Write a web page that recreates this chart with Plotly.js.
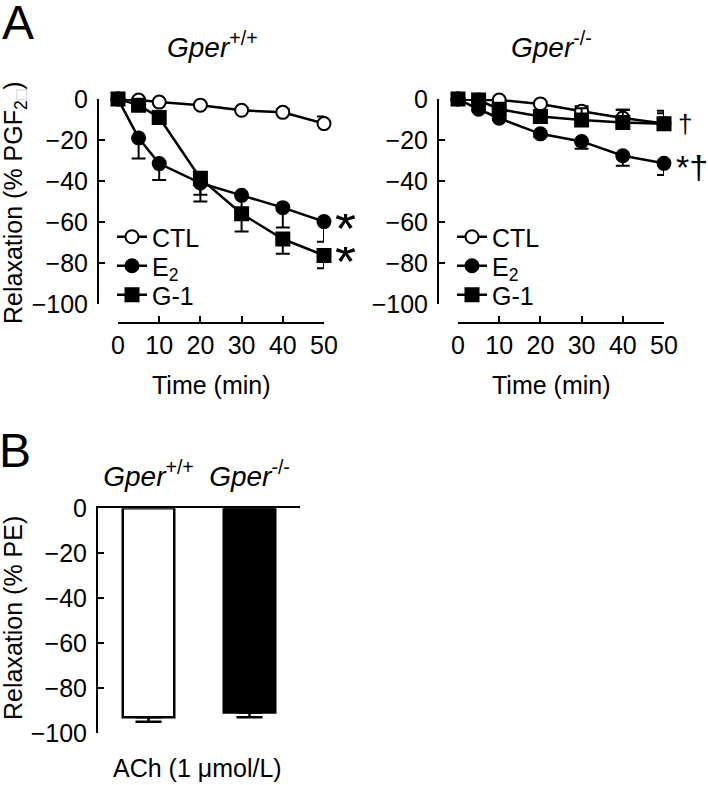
<!DOCTYPE html>
<html>
<head>
<meta charset="utf-8">
<script src="https://cdn.plot.ly/plotly-3.0.1.min.js"></script>
<style>html,body{margin:0;padding:0;background:#fff}#chart{width:708px;height:785px}</style>
</head>
<body>
<div id="chart"></div>
<script>
// ---- data ----
var timeMin = [0, 5, 10, 20, 30, 40, 50];
var timeTicks = [0, 10, 20, 30, 40, 50];
var relaxTicks = [0, -20, -40, -60, -80, -100];

var wtCTL = [0, -0.5, -1.5, -3, -5.5, -6.5, -12];
var wtCTLerr = [0, 0.5, 0.5, 0.8, 1, 1.5, 3.5];
var wtE2 = [0, -19, -31.5, -41, -47, -53, -59.8];
var wtE2err = [0, 10, 8, 9, 8, 9.7, 9.8];
var wtG1 = [0, -3, -9, -38.7, -56, -68.3, -76.3];
var wtG1err = [0, 1, 3, 8, 8.6, 7.2, 6.3];

var koCTL = [0, -0.5, -0.5, -2.4, -6, -9.3, -12];
var koCTLerr = [0, 0.5, 0.5, 1, 2.5, 4, 5];
var koE2 = [0, -5, -9.4, -17, -20.7, -27.7, -31.4];
var koE2err = [0, 1, 1, 1.5, 3.6, 4.9, 5.7];
var koG1 = [0, -0.5, -5, -8.5, -10.2, -11.5, -12.1];
var koG1err = [0, 0.5, 1, 3, 5.7, 6.3, 6.4];

var genotypes = ['Gper+/+', 'Gper-/-'];
var genotypeLabels = ['<i>Gper</i><sup>+/+</sup>', '<i>Gper</i><sup>-/-</sup>'];
var achRelax = [-92.9, -90.8];
var achErr = [2, 2.1];

var seriesNames = ['CTL', 'E<sub>2</sub>', 'G-1'];

// ---- layout helpers (pixel -> paper) ----
var W = 708, H = 785;
function px(x) { return x / W; }
function py(y) { return 1 - y / H; }
var FONT = 'Liberation Sans, Arial, sans-serif';
var zeros = [0, 0, 0, 0, 0, 0, 0];

function series(x, y, err, up, name, sym, fill, xa, ya, leg) {
  return {
    type: 'scatter', mode: 'lines+markers', x: x, y: y, name: name,
    xaxis: xa, yaxis: ya, legend: leg, showlegend: true, cliponaxis: false,
    line: {color: '#000', width: 2.5},
    marker: {symbol: sym, size: 13, color: fill, line: {color: '#000', width: 2}},
    error_y: {type: 'data', symmetric: false, array: up ? err : zeros, arrayminus: up ? zeros : err,
      color: '#000', thickness: 2, width: 7}
  };
}

var traces = [
  series(timeMin, wtCTL, wtCTLerr, true, seriesNames[0], 'circle', '#fff', 'x', 'y', 'legend'),
  series(timeMin, wtE2, wtE2err, false, seriesNames[1], 'circle', '#000', 'x', 'y', 'legend2'),
  series(timeMin, wtG1, wtG1err, false, seriesNames[2], 'square', '#000', 'x', 'y', 'legend3'),
  series(timeMin, koCTL, koCTLerr, true, seriesNames[0], 'circle', '#fff', 'x2', 'y2', 'legend4'),
  series(timeMin, koE2, koE2err, false, seriesNames[1], 'circle', '#000', 'x2', 'y2', 'legend5'),
  series(timeMin, koG1, koG1err, true, seriesNames[2], 'square', '#000', 'x2', 'y2', 'legend6'),
  {
    type: 'bar', x: genotypes, y: achRelax, xaxis: 'x3', yaxis: 'y3', showlegend: false, width: 0.51,
    marker: {color: ['#fff', '#000'], line: {color: '#000', width: 2.5}},
    error_y: {type: 'data', symmetric: false, array: [0, 0], arrayminus: achErr, color: '#000', thickness: 2.5, width: 13}
  }
];

var tickFont = {family: FONT, size: 25, color: '#000'};
function xAxis(d0, d1, pos) {
  return {domain: [px(d0), px(d1)], range: [0, 50], anchor: 'free', position: py(pos),
    showline: true, linewidth: 2, linecolor: '#000', ticks: 'inside', ticklen: 6, tickwidth: 2, tickcolor: '#000',
    tickvals: timeTicks, showgrid: false, zeroline: false, tickfont: tickFont, fixedrange: true};
}
function yAxis(pos, t, b) {
  return {domain: [py(b), py(t)], range: [-100, 0], anchor: 'free', position: px(pos),
    showline: true, linewidth: 2, linecolor: '#000', ticks: 'inside', ticklen: 6, tickwidth: 2, tickcolor: '#000',
    tickvals: relaxTicks, showgrid: false, zeroline: false, tickfont: tickFont, ticklabelstandoff: 4, fixedrange: true};
}

function legendAt(x, y) {
  return {x: px(x), y: py(y), xanchor: 'left', yanchor: 'middle',
    font: {family: FONT, size: 25, color: '#000'}, bgcolor: 'rgba(0,0,0,0)', borderwidth: 0,
    itemwidth: 30, itemclick: false, itemdoubleclick: false};
}

function ann(text, x, y, size, extra) {
  var a = {text: text, xref: 'paper', yref: 'paper', x: px(x), y: py(y), xanchor: 'center', yanchor: 'middle',
    showarrow: false, font: {family: FONT, size: size, color: '#000'}};
  for (var k in extra) a[k] = extra[k];
  return a;
}
function mark(text, xa, ya, yv, dx, dy, size) {
  return {text: text, xref: xa, yref: ya, x: 50, y: yv, xanchor: 'left', yanchor: 'middle', xshift: dx, yshift: dy,
    height: 28, showarrow: false, font: {family: FONT, size: size, color: '#000'}};
}

var layout = {
  width: W, height: H, margin: {l: 0, r: 0, t: 0, b: 0}, paper_bgcolor: '#fff', plot_bgcolor: 'rgba(0,0,0,0)',
  font: {family: FONT, color: '#000'},
  xaxis: xAxis(118, 324, 323),
  yaxis: yAxis(98, 99, 304),
  xaxis2: xAxis(458, 664, 323),
  yaxis2: yAxis(438, 99, 304),
  xaxis3: {domain: [px(98), px(300)], range: [-0.5, 1.5], anchor: 'y3', side: 'top', type: 'category',
    showline: true, linewidth: 2.5, linecolor: '#000', ticks: 'outside', ticklen: 9, tickcolor: 'rgba(0,0,0,0)',
    tickvals: genotypes, ticktext: genotypeLabels, showgrid: false, zeroline: false,
    tickfont: {family: FONT, size: 28, color: '#000'}, fixedrange: true},
  yaxis3: {domain: [py(733.3), py(508.3)], range: [-100, 0], anchor: 'x3',
    showline: true, linewidth: 2, linecolor: '#000', ticks: 'inside', ticklen: 6, tickwidth: 2, tickcolor: '#000',
    tickvals: relaxTicks, showgrid: false, zeroline: false, tickfont: tickFont, ticklabelstandoff: 4, fixedrange: true},
  legend: legendAt(112, 237),
  legend2: legendAt(112, 266),
  legend3: legendAt(112, 295),
  legend4: legendAt(452, 237),
  legend5: legendAt(452, 266),
  legend6: legendAt(452, 295),
  annotations: [
    ann('A', 18, 0, 48, {yanchor: 'top', height: 40}),
    ann('B', 15, 450, 48, {height: 40}),
    ann('<i>Gper</i><sup>+/+</sup>', 212, 45, 28),
    ann('<i>Gper</i><sup>-/-</sup>', 551, 45, 28),
    ann('Time (min)', 211, 385, 25),
    ann('Time (min)', 551, 385, 25),
    ann('Relaxation (% PGF<sub>2<span style="color:#c8c8c8">\u25A1</span></sub>)', 15, 203, 25, {textangle: -90}),
    ann('Relaxation (% PE)', 13, 618, 25, {textangle: -90}),
    ann('ACh (1 \u03BCmol/L)', 197, 768, 25),
    mark('*', 'x', 'y', wtE2[6], 9, -6, 54),
    mark('*', 'x', 'y', wtG1[6], 9, -6, 54),
    mark('\u2020', 'x2', 'y2', koG1[6], 12, 0, 26),
    mark('*\u2020', 'x2', 'y2', koE2[6], 10, -4, 34)
  ]
};

Plotly.newPlot('chart', traces, layout, {displayModeBar: false, staticPlot: true});
</script>
</body>
</html>
